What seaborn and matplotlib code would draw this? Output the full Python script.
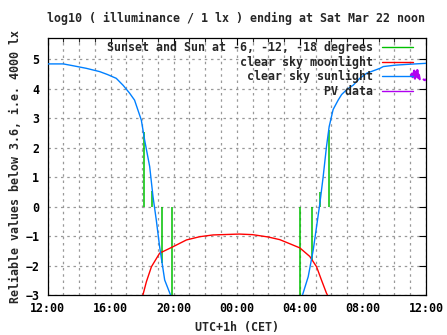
import matplotlib
matplotlib.use("Agg")
import matplotlib.pyplot as plt
from matplotlib.lines import Line2D
from matplotlib.ticker import MultipleLocator, FixedLocator
import numpy as np
import pandas as pd
import seaborn as sns

# hours after Fri 12:00 (CET)
sun_t = [0.0, 1.0, 1.6, 2.46, 3.3, 3.8, 4.36, 4.8, 5.2, 5.52, 5.95, 6.16, 6.48, 6.69, 6.9, 7.11, 7.43, 7.75, 7.8,
         16.17, 16.53, 16.85, 17.06, 17.27, 17.48, 17.69, 17.86, 18.11, 18.43, 18.65, 19.0, 19.39, 19.8, 20.23,
         21.08, 21.29, 22.1, 22.98, 24.0]
sun_v = [4.85, 4.85, 4.79, 4.70, 4.59, 4.49, 4.36, 4.12, 3.86, 3.62, 2.94, 2.26, 1.36, 0.34, -0.46, -1.36, -2.49, -2.93, -3.0,
         -3.0, -2.38, -1.47, -0.68, 0.11, 1.02, 2.04, 2.72, 3.30, 3.62, 3.81, 3.99, 4.13, 4.36, 4.53,
         4.70, 4.76, 4.81, 4.84, 4.87]
sun_seg = [0] * 19 + [1] * 20

moon_t = [6.05, 6.27, 6.59, 7.11, 7.96, 8.81, 9.65, 10.5, 12.15, 13.0, 14.0, 14.73, 15.37, 16.0, 16.63,
          17.06, 17.37, 17.69, 17.75]
moon_v = [-3.0, -2.55, -2.04, -1.58, -1.36, -1.13, -1.02, -0.96, -0.93, -0.95, -1.03, -1.12, -1.26, -1.40,
          -1.69, -2.04, -2.49, -2.94, -3.0]

twi_t = [6.11, 6.65, 7.28, 7.92, 16.04, 16.74, 17.30, 17.86]
twi_v = [2.55, 0.52, -1.92, -3.0, -3.0, -1.85, 0.5, 2.6]

pv_t = [23.05, 23.1, 23.15, 23.2, 23.25, 23.3, 23.35, 23.4, 23.45, 23.5, 23.55, 23.6, 23.85, 23.92, 24.0]
pv_v = [4.45, 4.52, 4.40, 4.50, 4.62, 4.35, 4.58, 4.42, 4.64, 4.38, 4.48, 4.33, 4.32, 4.30, 4.32]
pv_seg = [0] * 12 + [1] * 3

xtick_pos = [0, 4, 8, 12, 16, 20, 24]
xtick_labels = ["12:00", "16:00", "20:00", "00:00", "04:00", "08:00", "12:00"]

GREEN = "#00c000"
RED = "#ff0000"
BLUE = "#0080ff"
PURPLE = "#b000f0"

sns.set_theme(style="white")
plt.rcParams["font.family"] = ["DejaVu Sans Mono"]
plt.rcParams["font.weight"] = "bold"
FS = 8.4

fig = plt.figure(figsize=(4.47, 3.35), dpi=100)
ax = fig.add_axes([47.5 / 447, 1 - 295 / 335, (426 - 47.5) / 447, (295 - 38.3) / 335])

sun = pd.DataFrame({"t": sun_t, "v": sun_v, "seg": sun_seg})
moon = pd.DataFrame({"t": moon_t, "v": moon_v})
pv = pd.DataFrame({"t": pv_t, "v": pv_v, "seg": pv_seg})

ax.vlines(twi_t, 0, twi_v, color=GREEN, lw=1.1, zorder=2)
sns.lineplot(data=moon, x="t", y="v", color=RED, lw=1.0, sort=False, estimator=None, ax=ax, zorder=3)
sns.lineplot(data=sun, x="t", y="v", units="seg", color=BLUE, lw=1.0, sort=False, estimator=None, ax=ax, zorder=4)
sns.lineplot(data=pv, x="t", y="v", units="seg", color=PURPLE, lw=1.6, sort=False, estimator=None, ax=ax, zorder=5)

ax.set_xlim(0, 24)
ax.set_ylim(-3, 5.72)
ax.xaxis.set_major_locator(FixedLocator(xtick_pos))
ax.set_xticklabels(xtick_labels)
ax.xaxis.set_minor_locator(MultipleLocator(1))
ax.yaxis.set_major_locator(MultipleLocator(1))
ax.tick_params(axis="both", which="major", direction="in", length=5, width=0.8, top=True, right=True,
               labelsize=FS, pad=5, colors="black")
ax.tick_params(axis="both", which="minor", direction="in", length=3, width=0.8, top=True, right=True)
ax.tick_params(axis="y", pad=6)
for lab in ax.get_xticklabels() + ax.get_yticklabels():
    lab.set_fontweight("bold")

ax.grid(which="both", axis="x", color="#999999", linestyle=(0, (2, 3)), lw=0.9)
ax.grid(which="major", axis="y", color="#999999", linestyle=(0, (2, 3)), lw=0.9)
ax.set_axisbelow(True)
for s in ax.spines.values():
    s.set_color("black")
    s.set_linewidth(0.9)

ax.set_xlabel("UTC+1h (CET)", fontsize=FS, fontweight="bold", labelpad=4.5)
ax.set_ylabel("Reliable values below 3.6, i.e. 4000 lx", fontsize=FS, fontweight="bold", labelpad=2.5)
fig.text(236 / 447, 1 - 18 / 335, "log10 ( illuminance / 1 lx ) ending at Sat Mar 22 noon",
         ha="center", va="center", fontsize=FS, fontweight="bold")

handles = [Line2D([], [], color=GREEN, lw=1.0), Line2D([], [], color=RED, lw=1.0),
           Line2D([], [], color=BLUE, lw=1.0), Line2D([], [], color=PURPLE, lw=1.0)]
labels = ["Sunset and Sun at -6, -12, -18 degrees", "clear sky moonlight", "clear sky sunlight", "PV data"]
leg = fig.legend(handles, labels, loc="upper right", bbox_to_anchor=(413 / 447, 1 - 41.5 / 335),
                 frameon=False, markerfirst=False, fontsize=FS, handlelength=2.7, handletextpad=0.7,
                 labelspacing=0.12, borderpad=0, borderaxespad=0,
                 prop={"family": "DejaVu Sans Mono", "weight": "bold", "size": FS})

fig.savefig("out.png", dpi=100)
